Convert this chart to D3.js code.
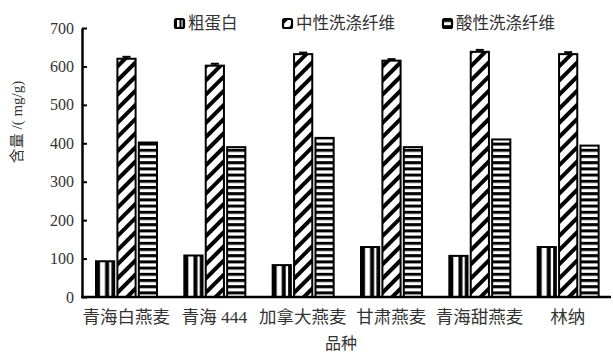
<!DOCTYPE html>
<html>
<head>
<meta charset="utf-8">
<script src="https://cdn.jsdelivr.net/npm/d3@7"></script>
<style>
  body { margin: 0; background: #fff; }
</style>
</head>
<body>
<svg id="chart" width="613" height="354"></svg>
<script>
// data
const varieties = ['青海白燕麦', '青海 444', '加拿大燕麦', '甘肃燕麦', '青海甜燕麦', '林纳'];
const seriesNames = ['粗蛋白', '中性洗涤纤维', '酸性洗涤纤维'];
const crudeProtein = [93, 108, 83, 130, 107, 130];
const ndf = [620, 602, 632, 615, 638, 632];
const adf = [402, 390, 414, 390, 410, 394];
const ndfErr = [5, 5, 4, 4, 5, 5];
const yTicks = [0, 100, 200, 300, 400, 500, 600, 700];

const FONT = '"Liberation Serif", "Times New Roman", "Noto Sans CJK SC", serif';

const margin = {top: 28, right: 1, bottom: 57, left: 82};
const width = 613, height = 354;

const svg = d3.select('#chart');
const defs = svg.append('defs');

// vertical stripe for crude protein (per bar box)
const p0 = defs.append('pattern').attr('id', 'pat0')
  .attr('patternContentUnits', 'objectBoundingBox')
  .attr('width', 1).attr('height', 1);
p0.append('rect').attr('width', 1).attr('height', 1).attr('fill', '#fff');
p0.append('rect').attr('x', 0).attr('width', 0.22).attr('height', 1).attr('fill', '#000');
p0.append('rect').attr('x', 0.5).attr('width', 0.22).attr('height', 1).attr('fill', '#000');
p0.append('rect').attr('x', 0.85).attr('width', 0.15).attr('height', 1).attr('fill', '#000');

// diagonal stripes
const p1 = defs.append('pattern').attr('id', 'pat1')
  .attr('patternUnits', 'userSpaceOnUse')
  .attr('width', 10).attr('height', 10)
  .attr('patternTransform', 'rotate(-45)');
p1.append('rect').attr('width', 10).attr('height', 10).attr('fill', '#fff');
p1.append('rect').attr('width', 10).attr('height', 4).attr('fill', '#000');

// horizontal stripes
const p2 = defs.append('pattern').attr('id', 'pat2')
  .attr('patternUnits', 'userSpaceOnUse')
  .attr('width', 6).attr('height', 6.2);
p2.append('rect').attr('width', 6).attr('height', 6.2).attr('fill', '#fff');
p2.append('rect').attr('width', 6).attr('height', 3).attr('fill', '#000');

const fills = ['url(#pat0)', 'url(#pat1)', 'url(#pat2)'];

const x0 = d3.scaleBand().domain(varieties)
  .range([margin.left, width - margin.right]).padding(0);
const x1 = d3.scaleBand().domain(seriesNames)
  .range([14, 75]).paddingInner(0.15);
const y = d3.scaleLinear().domain([0, 700])
  .range([height - margin.bottom, margin.top]);

const data = varieties.map((v, i) => ({
  variety: v,
  values: [
    {key: seriesNames[0], value: crudeProtein[i], err: 0},
    {key: seriesNames[1], value: ndf[i], err: ndfErr[i]},
    {key: seriesNames[2], value: adf[i], err: 0}
  ]
}));

const groups = svg.append('g').selectAll('g')
  .data(data).join('g')
  .attr('transform', d => `translate(${x0(d.variety)},0)`);

// error bars
groups.selectAll('.err')
  .data(d => d.values.filter(v => v.err > 0))
  .join('g').attr('class', 'err')
  .each(function(d) {
    const g = d3.select(this);
    const cx = x1(d.key) + x1.bandwidth() / 2;
    g.append('line').attr('x1', cx).attr('x2', cx)
      .attr('y1', y(d.value)).attr('y2', y(d.value + d.err))
      .attr('stroke', '#000').attr('stroke-width', 1.5);
    g.append('line').attr('x1', cx - 4).attr('x2', cx + 4)
      .attr('y1', y(d.value + d.err)).attr('y2', y(d.value + d.err))
      .attr('stroke', '#000').attr('stroke-width', 2);
  });

groups.selectAll('rect')
  .data(d => d.values)
  .join('rect')
  .attr('x', d => x1(d.key))
  .attr('width', x1.bandwidth())
  .attr('y', d => y(d.value))
  .attr('height', d => y(0) - y(d.value))
  .attr('fill', (d, i) => fills[i])
  .attr('stroke', '#000').attr('stroke-width', 2);

// axes
const yAxis = svg.append('g')
  .attr('transform', `translate(${margin.left},0)`)
  .call(d3.axisLeft(y).tickValues(yTicks).tickSize(-5).tickPadding(6).tickSizeOuter(0));
yAxis.attr('font-family', null);
yAxis.select('.domain').attr('stroke', '#000').attr('stroke-width', 2.5);
yAxis.selectAll('.tick line').attr('stroke', '#000').attr('stroke-width', 2);
yAxis.selectAll('.tick text').attr('font-size', 16).attr('dx', '-2');

const xAxis = svg.append('g')
  .attr('transform', `translate(0,${y(0)})`)
  .call(d3.axisBottom(x0).tickSize(0).tickPadding(14).tickSizeOuter(0));
xAxis.attr('font-family', null);
xAxis.select('.domain').attr('stroke', '#000').attr('stroke-width', 2.5)
  .attr('d', `M${margin.left - 1},0H${width - 2}`);
xAxis.selectAll('.tick text').attr('font-size', 17.5);

// axis titles
svg.append('text')
  .attr('x', 341).attr('y', 349)
  .attr('text-anchor', 'middle').attr('font-size', 16)
  .text('品种');
svg.append('text')
  .attr('transform', 'translate(22,122) rotate(-90)')
  .attr('text-anchor', 'middle').attr('font-size', 15)
  .text('含量 /( mg/g)');

// legend
const legendX = [175, 283, 443];
const legend = svg.append('g').selectAll('g')
  .data(seriesNames).join('g')
  .attr('transform', (d, i) => `translate(${legendX[i]},19)`);
legend.append('rect')
  .attr('width', 9).attr('height', 9).attr('rx', 1.5)
  .attr('fill', (d, i) => fills[i])
  .attr('stroke', '#000').attr('stroke-width', 2.2);
legend.append('text')
  .attr('x', 13).attr('y', 10).attr('font-size', 16.5)
  .text(d => d);

// shared text styling
svg.selectAll('text')
  .style('font-family', FONT)
  .style('fill', '#333');
</script>
</body>
</html>
